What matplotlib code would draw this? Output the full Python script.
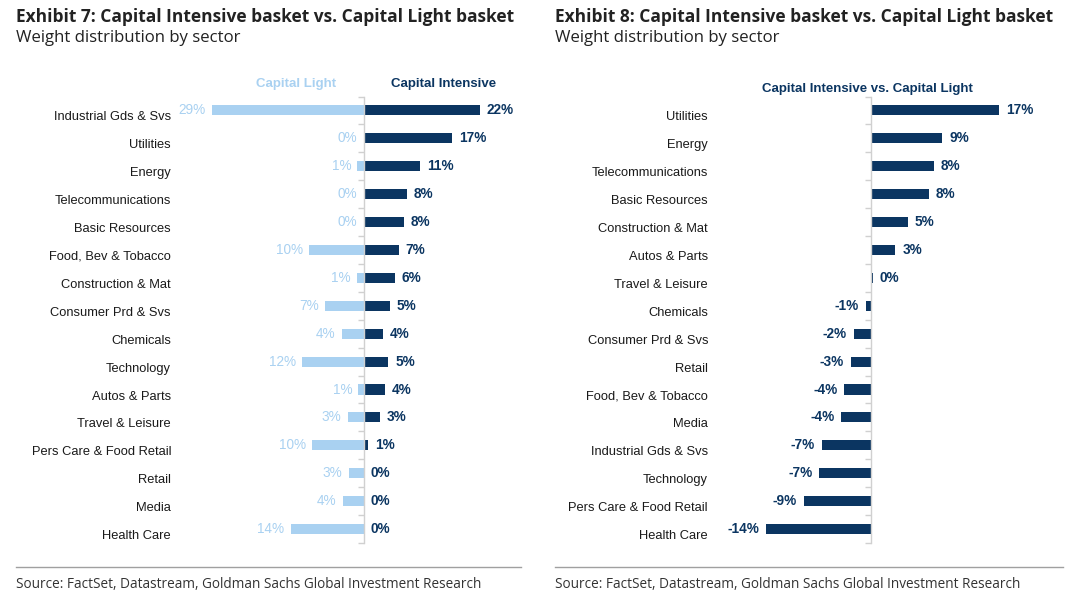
import numpy as np
import matplotlib
matplotlib.use('Agg')
import matplotlib.pyplot as plt
from matplotlib.transforms import blended_transform_factory, offset_copy

# data: exhibit 7 (basket weights, %)
sectors7 = ['Industrial Gds & Svs', 'Utilities', 'Energy', 'Telecommunications',
            'Basic Resources', 'Food, Bev & Tobacco', 'Construction & Mat',
            'Consumer Prd & Svs', 'Chemicals', 'Technology', 'Autos & Parts',
            'Travel & Leisure', 'Pers Care & Food Retail', 'Retail', 'Media',
            'Health Care']
cap_light = [29.0, 0.0, 1.2, 0.0, 0.0, 10.4, 1.3, 7.3, 4.2, 11.7, 1.0, 3.0, 9.8, 2.9, 4.0, 13.9]
cap_intensive = [22.1, 16.8, 10.7, 8.2, 7.6, 6.7, 5.9, 5.0, 3.6, 4.7, 4.1, 3.1, 0.8, 0.0, 0.0, 0.0]

# data: exhibit 8 (difference, %)
sectors8 = ['Utilities', 'Energy', 'Telecommunications', 'Basic Resources',
            'Construction & Mat', 'Autos & Parts', 'Travel & Leisure', 'Chemicals',
            'Consumer Prd & Svs', 'Retail', 'Food, Bev & Tobacco', 'Media',
            'Industrial Gds & Svs', 'Technology', 'Pers Care & Food Retail',
            'Health Care']
diff = [17.0, 9.4, 8.3, 7.6, 4.8, 3.2, 0.2, -0.7, -2.3, -2.7, -3.6, -4.0, -6.6, -6.9, -9.0, -14.0]

NAVY = '#0b3561'
LIGHT = '#a9d1f1'
TXT = '#1a1a1a'
GRID = '#d0d0d0'
LABEL_FONT = 'Liberation Sans'
TITLE_FONT = 'Open Sans'

fig = plt.figure(figsize=(10.8, 5.99), dpi=100)
W, H = 1080, 599


def px_axes(x0, x1, y0, y1):
    # y0/y1 measured from top in pixels
    return fig.add_axes([x0 / W, 1 - y1 / H, (x1 - x0) / W, (y1 - y0) / H])


def style_axis(ax, n):
    for s in ['top', 'right', 'bottom']:
        ax.spines[s].set_visible(False)
    ax.spines['left'].set_position(('data', 0))
    ax.spines['left'].set_color(GRID)
    ax.spines['left'].set_linewidth(1.0)
    ax.set_ylim(n - 0.5, -0.5)
    ax.set_yticks(np.arange(-0.5, n, 1.0))
    ax.set_yticklabels([])
    ax.tick_params(axis='y', length=4, color=GRID, width=1.0, direction='out')
    ax.set_xticks([])


def cat_labels(ax, names):
    tr = blended_transform_factory(ax.transAxes, ax.transData)
    tr = offset_copy(tr, fig=fig, x=-4, y=-7, units='dots')
    for i, name in enumerate(names):
        ax.text(0, i, name, transform=tr, ha='right', va='center',
                fontsize=9.3, color=TXT, family=LABEL_FONT)


n = len(sectors7)
y = np.arange(n)
bh = 0.36

# ---- Exhibit 7 ----
ax1 = px_axes(175, 521, 96.5, 543)
ax1.set_xlim(-36, 30)
ax1.barh(y, [-v for v in cap_light], height=bh, color=LIGHT)
ax1.barh(y, cap_intensive, height=bh, color=NAVY)
style_axis(ax1, n)
cat_labels(ax1, sectors7)
for i in range(n):
    ax1.annotate(f'{cap_light[i]:.0f}%', (-cap_light[i], i), xytext=(-4.5, 0),
                 textcoords='offset points', ha='right', va='center',
                 fontsize=9.8, color=LIGHT, family=LABEL_FONT)
    ax1.annotate(f'{cap_intensive[i]:.0f}%', (cap_intensive[i], i), xytext=(5, 0),
                 textcoords='offset points', ha='left', va='center',
                 fontsize=9.8, color=NAVY, fontweight='bold', family=LABEL_FONT)
ax1.text(-13, -0.95, 'Capital Light', ha='center', va='center', fontsize=9.5,
         color=LIGHT, fontweight='bold', family=LABEL_FONT)
ax1.text(15.3, -0.95, 'Capital Intensive', ha='center', va='center', fontsize=9.5,
         color=NAVY, fontweight='bold', family=LABEL_FONT)

# ---- Exhibit 8 ----
ax2 = px_axes(712, 1036, 96.5, 543)
ax2.set_xlim(-21.15, 21.85)
ax2.barh(y, diff, height=bh, color=NAVY)
style_axis(ax2, n)
cat_labels(ax2, sectors8)
for i, v in enumerate(diff):
    off = 5 if v >= 0 else -5
    ax2.annotate(f'{v:.0f}%', (v, i), xytext=(off, 0), textcoords='offset points',
                 ha='left' if v >= 0 else 'right', va='center',
                 fontsize=9.8, color=NAVY, fontweight='bold', family=LABEL_FONT)
ax2.text(-0.5, -0.78, 'Capital Intensive vs. Capital Light', ha='center', va='center',
         fontsize=9.5, color=NAVY, fontweight='bold', family=LABEL_FONT)

# ---- titles / source ----
for x0, x1, num in [(16, 521, 7), (555, 1063, 8)]:
    fig.text(x0 / W, 1 - 17 / H, f'Exhibit {num}: Capital Intensive basket vs. Capital Light basket',
             ha='left', va='center', fontsize=12.5, fontweight='bold', color='#222222',
             family=TITLE_FONT)
    fig.text(x0 / W, 1 - 38 / H, 'Weight distribution by sector', ha='left', va='center',
             fontsize=12.1, color='#222222', family=TITLE_FONT)
    fig.add_artist(plt.Line2D([x0 / W, x1 / W], [1 - 567 / H, 1 - 567 / H],
                              color='#a0a0a0', linewidth=1.0))
    fig.text(x0 / W, 1 - 584 / H, 'Source: FactSet, Datastream, Goldman Sachs Global Investment Research',
             ha='left', va='center', fontsize=9.8, color='#333333', family=TITLE_FONT)

fig.savefig('out.png', dpi=100, facecolor='white')
